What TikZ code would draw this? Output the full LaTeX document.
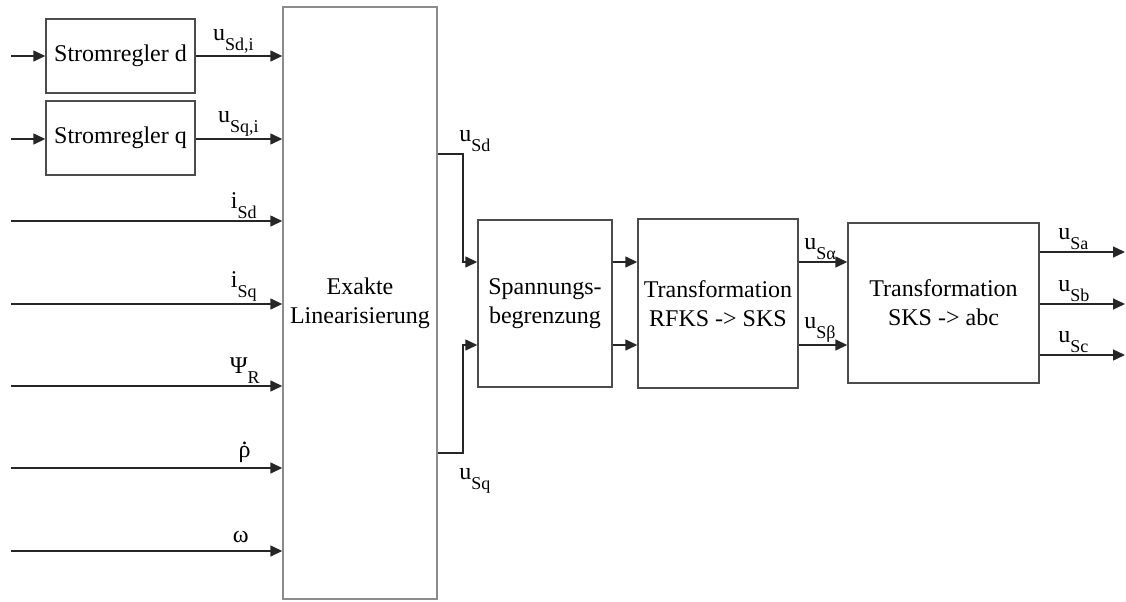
\documentclass[tikz,border=0pt]{standalone}
\usepackage{fontspec}
\setmainfont{Liberation Serif}
\usepackage{tikz}
\usetikzlibrary{arrows.meta,positioning}

\newcommand{\sig}[2]{#1\raisebox{-5pt}{\fontsize{9}{9}\selectfont #2}}
\newcommand{\rhodot}{\ooalign{ρ\cr\hidewidth\raisebox{6.5pt}{.}\hidewidth\cr}}

\begin{document}
\begin{tikzpicture}[
  x=0.5pt, y=-0.5pt,
  font=\fontsize{12}{14.5}\selectfont,
  >={Triangle[length=6pt,width=5.5pt]},
  blockbox/.style={draw=black!70, line width=0.7pt, align=center, inner sep=0pt},
  arr/.style={->, line width=0.7pt, draw=black!85},
  inlbl/.style={anchor=south east, inner sep=1pt},
  outlbl/.style={anchor=south west, inner sep=1pt}
]
\useasboundingbox (0,0) rectangle (1126,601);

% Bloecke
\node[blockbox, minimum width=74.5pt, minimum height=37pt] (regd) at (120.5,56) {Stromregler d};
\node[blockbox, minimum width=74.5pt, minimum height=37pt] (regq) at (120.5,138) {Stromregler q};
\node[blockbox, draw=black!45, minimum width=77pt, minimum height=296pt] (lin) at (360,303) {Exakte\\Linearisierung};
\node[blockbox, minimum width=67pt, minimum height=83.5pt] (spann) at (545,303.5) {Spannungs-\\begrenzung};
\node[blockbox, minimum width=80pt, minimum height=84.5pt] (rfks) at (718,303.5) {Transformation\\RFKS -> SKS};
\node[blockbox, minimum width=95.5pt, minimum height=80pt] (abc) at (943.5,303) {Transformation\\SKS -> abc};

% freie Enden
\coordinate (ind) at (11,56);
\coordinate (inq) at (11,139);
\coordinate (in1) at (11,221);
\coordinate (in2) at (11,304);
\coordinate (in3) at (11,386);
\coordinate (in4) at (11,468);
\coordinate (in5) at (11,551);
\coordinate (outa) at (1125,252);
\coordinate (outb) at (1125,304);
\coordinate (outc) at (1125,355);

% Eingaenge
\draw[arr] (ind) -- (regd.west);
\draw[arr] (inq) -- (regq.west |- inq);
\draw[arr] (regd.east) -- (regd.east -| lin.west) node[inlbl, xshift=-13pt] {\sig{u}{Sd,i}};
\draw[arr] (regq.east |- inq) -- (inq -| lin.west) node[inlbl, xshift=-10.5pt] {\sig{u}{Sq,i}};
\draw[arr] (in1) -- (in1 -| lin.west) node[inlbl, xshift=-11.5pt] {\sig{i}{Sd}};
\draw[arr] (in2) -- (in2 -| lin.west) node[inlbl, xshift=-11.5pt] {\sig{i}{Sq}};
\draw[arr] (in3) -- (in3 -| lin.west) node[inlbl, xshift=-10pt] {\sig{Ψ}{R}};
\draw[arr] (in4) -- (in4 -| lin.west) node[inlbl, xshift=-14.5pt, yshift=4pt] {\rhodot};
\draw[arr] (in5) -- (in5 -| lin.west) node[inlbl, xshift=-15.5pt, yshift=3pt] {ω};

% Spannungen
\draw[arr] (lin.east |- 0,154) node[outlbl, xshift=9.5pt] {\sig{u}{Sd}} -- (463,154) |- (spann.west |- 0,262);
\draw[arr] (lin.east |- 0,453) node[anchor=north west, inner sep=1pt, xshift=9.5pt, yshift=-6.5pt] {\sig{u}{Sq}} -- (463,453) |- (spann.west |- 0,345);
\draw[arr] (spann.east |- 0,262) -- (rfks.west |- 0,262);
\draw[arr] (spann.east |- 0,345) -- (rfks.west |- 0,345);
\draw[arr] (rfks.east |- 0,262) node[outlbl, xshift=1.5pt] {\sig{u}{Sα}} -- (abc.west |- 0,262);
\draw[arr] (rfks.east |- 0,345) node[outlbl, xshift=1.5pt] {\sig{u}{Sβ}} -- (abc.west |- 0,345);
\draw[arr] (abc.east |- outa) node[outlbl, xshift=8pt] {\sig{u}{Sa}} -- (outa);
\draw[arr] (abc.east |- outb) node[outlbl, xshift=8pt] {\sig{u}{Sb}} -- (outb);
\draw[arr] (abc.east |- outc) node[outlbl, xshift=8pt] {\sig{u}{Sc}} -- (outc);
\end{tikzpicture}
\end{document}
